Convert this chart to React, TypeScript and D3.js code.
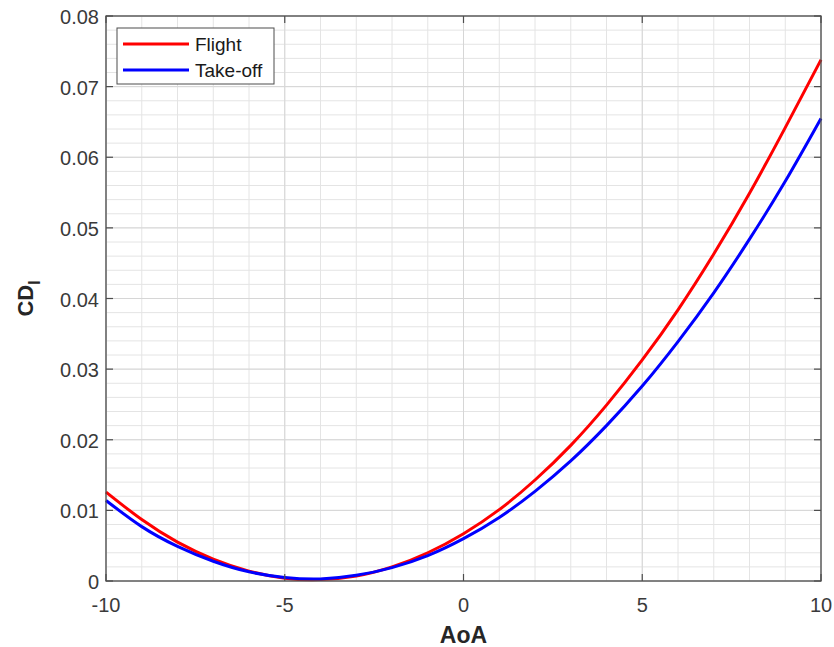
import React from "react";
import * as d3 from "d3";

const aoa = [-10, -9, -8, -7, -6, -5, -4, -3, -2, -1, 0, 1, 2, 3, 4, 5, 6, 7, 8, 9, 10];
const flight = [0.0126, 0.0087, 0.0055, 0.0031, 0.0014, 0.0004, 0.0002, 0.0007, 0.002, 0.004, 0.0067, 0.0101, 0.0143, 0.0192, 0.0249, 0.0313, 0.0384, 0.0463, 0.0549, 0.0642, 0.0738];
const takeoff = [0.0114, 0.0077, 0.0049, 0.0028, 0.0013, 0.0005, 0.0003, 0.0008, 0.0019, 0.0036, 0.006, 0.009, 0.0127, 0.017, 0.022, 0.0276, 0.0339, 0.0408, 0.0484, 0.0566, 0.0655];
const xTicks = [-10, -5, 0, 5, 10];
const yTicks = [0, 0.01, 0.02, 0.03, 0.04, 0.05, 0.06, 0.07, 0.08];
const seriesNames = ["Flight", "Take-off"];
const seriesColors = ["#ff0000", "#0000ff"];

export default function App() {
  const W = 834, H = 647;
  const L = 106, R = 821, T = 16, B = 581;
  const x = d3.scaleLinear().domain([-10, 10]).range([L, R]);
  const y = d3.scaleLinear().domain([0, 0.08]).range([B, T]);
  const xMinor = d3.range(-10, 11, 1);
  const yMinor = d3.range(0, 41).map((i) => i * 0.002);
  const line = d3
    .line<number>()
    .x((_, i) => x(aoa[i]))
    .y((d) => y(d))
    .curve(d3.curveNatural);
  const series = [flight, takeoff];
  const font = "Liberation Sans, Arial, Helvetica, sans-serif";
  const axisColor = "#4d4d4d";
  const textColor = "#3a3a3a";
  return (
    <svg width={W} height={H} style={{ position: "absolute", left: 0, top: 0, background: "#fff" }} fontFamily={font}>
      <rect x={0} y={0} width={W} height={H} fill="#fff" />
      {/* minor grid */}
      {xMinor.map((v) => (
        <line key={"xm" + v} x1={x(v)} x2={x(v)} y1={T} y2={B} stroke="#e4e4e4" strokeWidth={1} />
      ))}
      {yMinor.map((v, i) => (
        <line key={"ym" + i} x1={L} x2={R} y1={y(v)} y2={y(v)} stroke="#e4e4e4" strokeWidth={1} />
      ))}
      {/* major grid */}
      {xTicks.map((v) => (
        <line key={"xg" + v} x1={x(v)} x2={x(v)} y1={T} y2={B} stroke="#d6d6d6" strokeWidth={1} />
      ))}
      {yTicks.map((v) => (
        <line key={"yg" + v} x1={L} x2={R} y1={y(v)} y2={y(v)} stroke="#d6d6d6" strokeWidth={1} />
      ))}
      {/* curves */}
      {series.map((s, i) => (
        <path key={"s" + i} d={line(s) || ""} fill="none" stroke={seriesColors[i]} strokeWidth={3} />
      ))}
      {/* axes box */}
      <rect x={L} y={T} width={R - L} height={B - T} fill="none" stroke={axisColor} strokeWidth={1.3} />
      {/* ticks */}
      {xTicks.map((v) => (
        <g key={"xt" + v}>
          <line x1={x(v)} x2={x(v)} y1={B} y2={B - 7} stroke={axisColor} strokeWidth={1.2} />
          <line x1={x(v)} x2={x(v)} y1={T} y2={T + 7} stroke={axisColor} strokeWidth={1.2} />
          <text x={x(v)} y={B + 31} textAnchor="middle" fontSize={20} fill={textColor}>
            {v}
          </text>
        </g>
      ))}
      {yTicks.map((v) => (
        <g key={"yt" + v}>
          <line x1={L} x2={L + 7} y1={y(v)} y2={y(v)} stroke={axisColor} strokeWidth={1.2} />
          <line x1={R} x2={R - 7} y1={y(v)} y2={y(v)} stroke={axisColor} strokeWidth={1.2} />
          <text x={L - 7} y={y(v) + 8} textAnchor="end" fontSize={20} fill={textColor}>
            {v === 0 ? "0" : v.toFixed(2)}
          </text>
        </g>
      ))}
      {/* axis labels */}
      <text x={x(0)} y={643} textAnchor="middle" fontSize={23} fontWeight="bold" fill="#262626">
        AoA
      </text>
      <text transform={`translate(33, ${(T + B) / 2}) rotate(-90)`} textAnchor="middle" fontSize={22} fontWeight="bold" fill="#262626">
        CD<tspan fontSize={16} dy={7}>l</tspan>
      </text>
      {/* legend */}
      <rect x={117} y={28} width={157} height={56} fill="#fff" stroke={axisColor} strokeWidth={1} />
      {seriesNames.map((n, i) => (
        <g key={"lg" + i}>
          <line x1={123} x2={189} y1={44 + i * 26} y2={44 + i * 26} stroke={seriesColors[i]} strokeWidth={3} />
          <text x={195} y={51 + i * 26} fontSize={19} fill="#1a1a1a">
            {n}
          </text>
        </g>
      ))}
    </svg>
  );
}
